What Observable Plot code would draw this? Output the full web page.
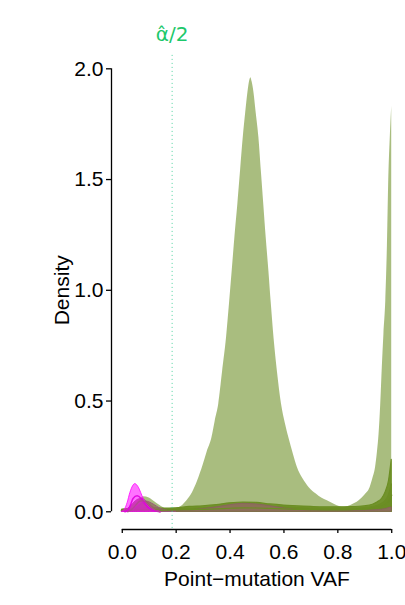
<!DOCTYPE html>
<html>
<head>
<meta charset="utf-8">
<script src="https://cdn.jsdelivr.net/npm/d3@7"></script>
<script src="https://cdn.jsdelivr.net/npm/@observablehq/plot@0.6"></script>
<style>
  html, body { margin: 0; padding: 0; background: #fff; }
  #chart svg { display: block; }
</style>
</head>
<body>
<div id="chart"></div>
<script>
// ---- data ----
const alphaHalf = 0.185;
const alphaLabel = "\u03B1\u0302/2";
const xTitle = "Point\u2212mutation VAF";
const yTitle = "Density";
const xTicks = [0, 0.2, 0.4, 0.6, 0.8, 1.0];
const yTicks = [0, 0.5, 1.0, 1.5, 2.0];

// main (light green) density
const mainVaf = [0,0.02,0.04,0.06,0.08,0.10,0.12,0.14,0.16,0.18,0.20,0.22,0.24,0.26,0.28,0.30,0.315,0.333,0.345,0.358,0.372,0.387,0.398,0.408,0.418,0.429,0.439,0.449,0.458,0.466,0.472,0.477,0.482,0.489,0.497,0.507,0.516,0.525,0.534,0.544,0.553,0.563,0.576,0.591,0.605,0.618,0.635,0.650,0.670,0.693,0.72,0.74,0.761,0.79,0.822,0.85,0.879,0.90,0.92,0.93,0.94,0.947,0.953,0.959,0.965,0.971,0.978,0.984,0.989,0.995,1.0];
const mainDens = [0.005,0.015,0.03,0.05,0.068,0.062,0.045,0.028,0.014,0.01,0.014,0.025,0.05,0.085,0.14,0.21,0.27,0.335,0.41,0.486,0.63,0.787,0.94,1.088,1.24,1.39,1.54,1.69,1.80,1.89,1.94,1.96,1.94,1.89,1.80,1.69,1.54,1.39,1.24,1.088,0.94,0.787,0.63,0.486,0.40,0.335,0.26,0.20,0.15,0.11,0.08,0.062,0.05,0.032,0.02,0.03,0.05,0.075,0.11,0.15,0.2,0.27,0.35,0.48,0.65,0.8,0.953,1.2,1.5,1.7,1.83];

// darker olive-green densities
const gVaf = [0,0.05,0.10,0.15,0.20,0.25,0.30,0.35,0.40,0.45,0.50,0.55,0.60,0.65,0.70,0.75,0.80,0.85,0.90,0.93,0.947,0.965,0.978,0.99,1.0];
const g1Dens = [0.01,0.014,0.018,0.014,0.016,0.022,0.025,0.03,0.038,0.042,0.04,0.033,0.028,0.025,0.022,0.02,0.02,0.021,0.025,0.032,0.042,0.06,0.09,0.14,0.235];
const g2Dens = [0.008,0.01,0.012,0.01,0.011,0.014,0.016,0.02,0.026,0.03,0.028,0.023,0.02,0.017,0.015,0.013,0.013,0.014,0.017,0.022,0.027,0.038,0.052,0.078,0.125];
const g3Dens = [0.006,0.007,0.008,0.007,0.008,0.01,0.011,0.013,0.016,0.018,0.017,0.015,0.013,0.011,0.01,0.009,0.009,0.01,0.012,0.016,0.02,0.026,0.034,0.05,0.075];

// brown densities
const b1Vaf = [0,0.1,0.2,0.25,0.30,0.35,0.40,0.45,0.50,0.55,0.60,0.65,0.70,0.80,0.90,0.95,0.98,1.0];
const b1Dens = [0.003,0.004,0.004,0.006,0.012,0.02,0.03,0.036,0.033,0.025,0.015,0.008,0.005,0.004,0.005,0.008,0.013,0.02];
const b2Vaf = [0,0.02,0.04,0.06,0.075,0.09,0.11,0.13,0.16,0.20];
const b2Dens = [0,0.01,0.035,0.055,0.058,0.045,0.025,0.01,0.003,0];
const b3Vaf = [0.02,0.04,0.06,0.08,0.09,0.10,0.12,0.14,0.17,0.20];
const b3Dens = [0,0.008,0.025,0.042,0.046,0.043,0.03,0.015,0.004,0];

// magenta densities
const m1Vaf = [0,0.01,0.02,0.03,0.04,0.048,0.055,0.065,0.075,0.085,0.10,0.12,0.14];
const m1Dens = [0,0.01,0.04,0.085,0.115,0.125,0.12,0.1,0.07,0.045,0.02,0.005,0];
const m2Vaf = [0.01,0.02,0.03,0.04,0.055,0.07,0.085,0.10,0.12,0.14];
const m2Dens = [0,0.005,0.03,0.06,0.072,0.06,0.035,0.015,0.005,0];
const m3Vaf = [0.02,0.035,0.05,0.065,0.075,0.09,0.105,0.12,0.14];
const m3Dens = [0,0.01,0.03,0.048,0.05,0.04,0.022,0.008,0];

// ---- build rows ----
const rows = (xs, ys) => xs.map((x, i) => ({x, y: ys[i]}));
const main = rows(mainVaf, mainDens);
const g1 = rows(gVaf, g1Dens), g2 = rows(gVaf, g2Dens), g3 = rows(gVaf, g3Dens);
const b1 = rows(b1Vaf, b1Dens), b2 = rows(b2Vaf, b2Dens), b3 = rows(b3Vaf, b3Dens);
const m1 = rows(m1Vaf, m1Dens), m2 = rows(m2Vaf, m2Dens), m3 = rows(m3Vaf, m3Dens);

const OLIVE = "#6B8E23";
const BROWN = "#8E6F5C";
const MAG = "#FF00FF";
const curve = "monotone-x";
const FS = 21;
const area = (data, fill, op, stroke, sw) => Plot.areaY(data, {x: "x", y: "y", curve, fill, fillOpacity: op, stroke, strokeWidth: sw});
const line = (data, stroke, sw, op) => Plot.lineY(data, {x: "x", y: "y", curve, stroke, strokeWidth: sw, strokeOpacity: op});

const chart = Plot.plot({
  width: 405,
  height: 605,
  marginLeft: 111,
  marginRight: 3,
  marginTop: 61,
  marginBottom: 76,
  style: {fontFamily: "'Liberation Sans', Arial, sans-serif", fontSize: FS + "px", background: "#fff", color: "#000"},
  x: {domain: [-0.04, 1.04], axis: null},
  y: {domain: [-0.08, 2.033], axis: null},
  marks: [
    area(main, OLIVE, 0.58, "none", 0),
    area(g3, OLIVE, 0.9, OLIVE, 1),
    area(g2, OLIVE, 0.9, OLIVE, 1),
    area(g1, OLIVE, 0.9, OLIVE, 1.2),
    area(b1, BROWN, 0.95, "#8a6060", 0.8),
    area(b2, BROWN, 0.85, "#9a5a7a", 1),
    area(b3, BROWN, 0.8, "#9a5a7a", 1),
    line(g3, OLIVE, 1.2, 1),
    area(m1, MAG, 0.55, MAG, 0.8),
    line(m2, "#E000E0", 1.5, 0.9),
    line(m3, "#B04A90", 1.3, 0.9),
    Plot.ruleX([alphaHalf], {x: d => d, y1: -0.075, y2: 2.07, stroke: "#3ccf95", strokeWidth: 0.9, strokeDasharray: "1,3"}),
    Plot.text([alphaHalf], {x: d => d, text: () => alphaLabel, frameAnchor: "top", dy: -21, lineAnchor: "bottom", fill: "#1DC86B", fontSize: 20, fontFamily: "'DejaVu Sans', sans-serif"}),
    // axes
    Plot.ruleY([-0.08], {x1: xTicks[0], x2: xTicks[xTicks.length - 1], y: d => d, stroke: "#000", strokeWidth: 1.3}),
    Plot.ruleX([-0.04], {y1: yTicks[0], y2: yTicks[yTicks.length - 1], x: d => d, stroke: "#000", strokeWidth: 1.3}),
    Plot.axisX({ticks: xTicks, tickFormat: d3.format(".1f"), tickSize: 4, tickPadding: 11, anchor: "bottom", label: null, strokeWidth: 1.3}),
    Plot.axisY({ticks: yTicks, tickFormat: d3.format(".1f"), tickSize: 5, tickPadding: 3, anchor: "left", label: null, strokeWidth: 1.3}),
    Plot.text([yTitle], {x: -0.04, y: 1.0, text: d => d, rotate: -90, dx: -49, fontSize: FS, fill: "#000"}),
    Plot.text([xTitle], {x: 0.5, y: -0.08, text: d => d, dy: 50, fontSize: FS, fill: "#000"})
  ]
});
document.getElementById("chart").appendChild(chart);
</script>
</body>
</html>
